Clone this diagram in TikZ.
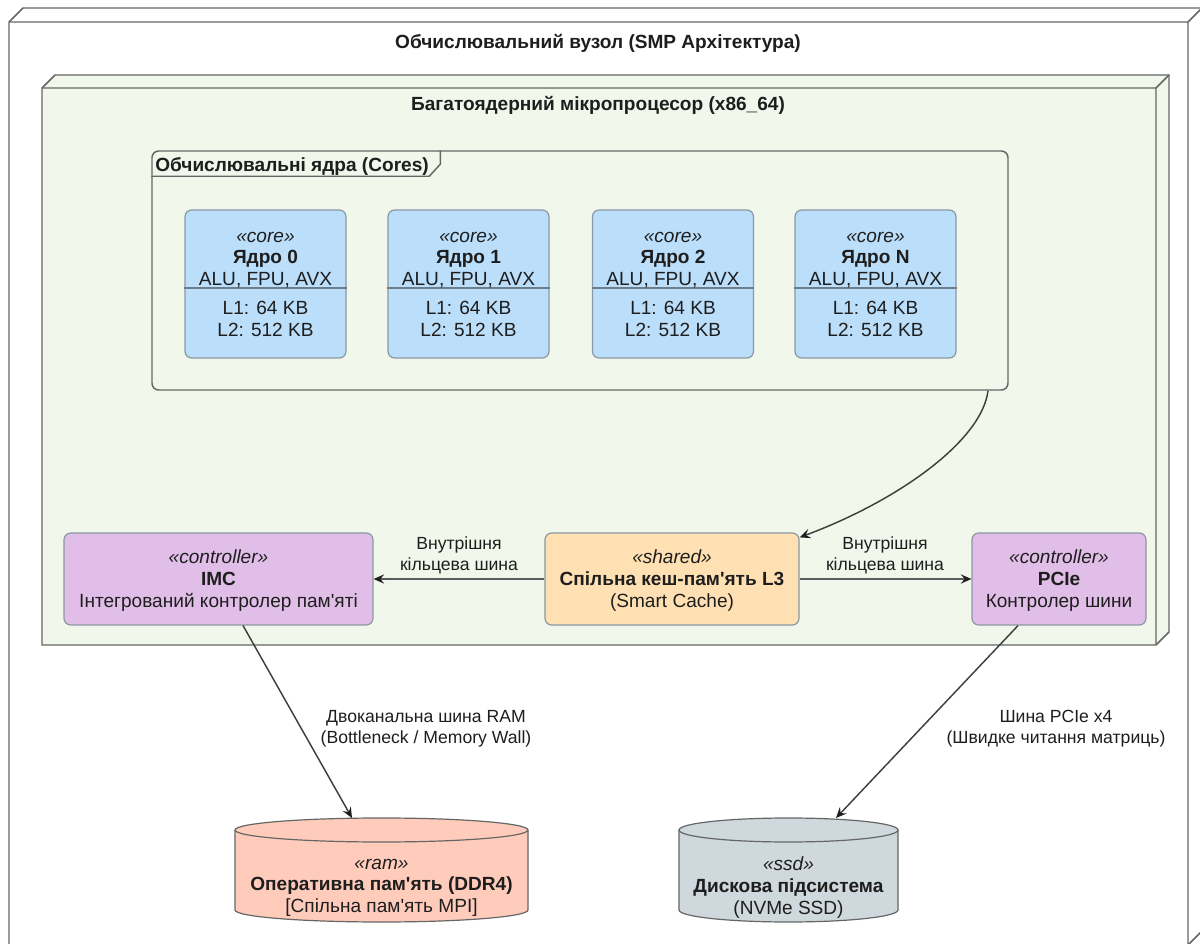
\documentclass[tikz,border=0pt]{standalone}
\usepackage{fontspec}
\setmainfont{Liberation Sans}[Ligatures=TeXOff]
\usetikzlibrary{arrows.meta,calc}

\definecolor{linegray}{HTML}{666666}
\definecolor{connGray}{HTML}{5A5A5A}
\definecolor{cpuFill}{HTML}{F1F7EA}
\definecolor{coreFill}{HTML}{BBDEFB}
\definecolor{coreLine}{HTML}{8A98A4}
\definecolor{sepLine}{HTML}{6C7C88}
\definecolor{ctrlFill}{HTML}{E1BEE7}
\definecolor{cacheFill}{HTML}{FFE0B2}
\definecolor{ramFill}{HTML}{FFCCBC}
\definecolor{ssdFill}{HTML}{CFD8DC}
\definecolor{ink}{HTML}{1E1E1E}

\newcommand\nodefont{\fontsize{14.3}{16.2}\selectfont}
\newcommand\edgefont{\fontsize{13.2}{15.6}\selectfont}

\begin{document}
\begin{tikzpicture}[
  x=0.75pt, y=-0.75pt,
  boxline/.style={draw=linegray, line width=1.1pt, line join=miter},
  txt/.style={align=center, text=ink, font=\nodefont, inner sep=0pt},
  elabel/.style={align=center, text=ink, font=\edgefont, inner sep=0pt},
  heading/.style={text=ink, font=\nodefont\bfseries, inner sep=0pt},
  framebox/.style={draw=linegray, line width=1.1pt, rounded corners=5pt,
    minimum width=856*0.75pt, minimum height=239*0.75pt, inner sep=0pt},
  corebox/.style={draw=coreLine, line width=0.9pt, fill=coreFill, rounded corners=5pt,
    minimum width=161*0.75pt, minimum height=148*0.75pt, inner sep=0pt},
  sepline/.style={draw=sepLine, line width=1.5pt},
  unitbox/.style={draw=coreLine, line width=0.9pt, rounded corners=5pt,
    minimum height=92*0.75pt, inner sep=0pt},
  cyl/.style={draw=linegray, line width=0.9pt},
  conn/.style={draw=connGray, line width=1.1pt,
    -{Stealth[length=8pt, width=7pt, inset=3pt, color=ink]}},
]
\useasboundingbox (0,0) rectangle (1200,944);
\clip (0,0) rectangle (1200,944);

% ---- computing node (outer 3D box) ----
\filldraw[boxline, fill=white] (9,22) -- (23,8) -- (1202,8) -- (1202,931)
  -- (1188,945) -- (9,945) -- cycle;
\draw[boxline] (9,22) -- (1188,22) -- (1188,945) (1188,22) -- (1202,8);
\node[heading] (nodetitle) at (598,43) {Обчислювальний вузол (SMP Архітектура)};

% ---- multicore CPU (inner 3D box) ----
\filldraw[boxline, fill=cpuFill] (42,88) -- (55,75) -- (1169,75) -- (1169,632)
  -- (1156,645) -- (42,645) -- cycle;
\draw[boxline] (42,88) -- (1156,88) -- (1156,645) (1156,88) -- (1169,75);
\node[heading] (cputitle) at (598,105) {Багатоядерний мікропроцесор (x86\_64)};

% ---- cores frame ----
\node[framebox] (cores) at (580,270.5) {};
\draw[boxline, line join=round]
  ($(cores.north west)+(0,26)$) -- ++(278,0) -- ++(11,-12) -- ++(0,-14);
\node[heading, anchor=west] (corestitle) at (155,166) {Обчислювальні ядра (Cores)};

% ---- cores ----
\newcommand\corenode[3]{%
  \node[corebox] (#1) at (#2,284) {};
  \draw[sepline] ($(#1.north west)+(0,79)$) -- ($(#1.north east)+(0,79)$);
  \node[txt] (#1-top) at (#2,260) {\textit{«core»}\\\textbf{#3}\\ALU, FPU, AVX};
  \node[txt] (#1-bot) at (#2,319) {L1: 64 KB\\L2: 512 KB};
}
\corenode{core0}{265.5}{Ядро 0}
\corenode{core1}{468.5}{Ядро 1}
\corenode{core2}{673}{Ядро 2}
\corenode{coreN}{875.5}{Ядро N}

% ---- controllers and shared cache ----
\node[unitbox, fill=ctrlFill, minimum width=309*0.75pt] (imc) at (218.5,579) {};
\node[txt] (imc-text) at (218.5,580.5) {\textit{«controller»}\\\textbf{IMC}\\Інтегрований контролер пам'яті};

\node[unitbox, fill=cacheFill, minimum width=254*0.75pt] (l3) at (672,579) {};
\node[txt] (l3-text) at (672,580.5) {\textit{«shared»}\\\textbf{Спільна кеш-пам'ять L3}\\(Smart Cache)};

\node[unitbox, fill=ctrlFill, minimum width=174*0.75pt] (pcie) at (1059,579) {};
\node[txt] (pcie-text) at (1059,580.5) {\textit{«controller»}\\\textbf{PCIe}\\Контролер шини};

% ---- storage cylinders ----
\filldraw[cyl, fill=ramFill] (235,830) -- (235,910)
  arc[start angle=180, end angle=360, x radius=109.875pt, y radius=9pt]
  -- (528,830)
  arc[start angle=0, end angle=180, x radius=109.875pt, y radius=9pt] -- cycle;
\draw[cyl] (528,830) arc[start angle=0, end angle=-180, x radius=109.875pt, y radius=9pt];
\coordinate (ramtop) at (352,818);
\node[txt] (ram) at (381.5,887.5) {\textit{«ram»}\\\textbf{Оперативна пам'ять (DDR4)}\\{[}Спільна пам'ять MPI{]}};

\filldraw[cyl, fill=ssdFill] (679,830) -- (679,910)
  arc[start angle=180, end angle=360, x radius=82.125pt, y radius=9pt]
  -- (898,830)
  arc[start angle=0, end angle=180, x radius=82.125pt, y radius=9pt] -- cycle;
\draw[cyl] (898,830) arc[start angle=0, end angle=-180, x radius=82.125pt, y radius=9pt];
\coordinate (ssdtop) at (836,818);
\node[txt] (ssd) at (788.5,887.5) {\textit{«ssd»}\\\textbf{Дискова підсистема}\\(NVMe SSD)};

% ---- connectors ----
\draw[conn, draw=ink!85] ([xshift=306pt]cores.south)
  .. controls (982,440) and (900,500) .. ([yshift=-3.75pt]l3.north east);
\draw[conn] (l3.west) -- (imc.east);
\draw[conn] (l3.east) -- (pcie.west);
\draw[conn, draw=ink!85] ([xshift=18.4pt]imc.south) -- (ramtop);
\draw[conn, draw=ink!85] ([xshift=-30.75pt]pcie.south) -- (ssdtop);

% ---- connector labels ----
\node[elabel] (ringL) at (459,555) {Внутрішня\\кільцева шина};
\node[elabel] (ringR) at (885,555) {Внутрішня\\кільцева шина};
\node[elabel] (ramlink) at (426,729) {Двоканальна шина RAM\\(Bottleneck / Memory Wall)};
\node[elabel] (ssdlink) at (1056,729) {Шина PCIe x4\\(Швидке читання матриць)};
\end{tikzpicture}
\end{document}
